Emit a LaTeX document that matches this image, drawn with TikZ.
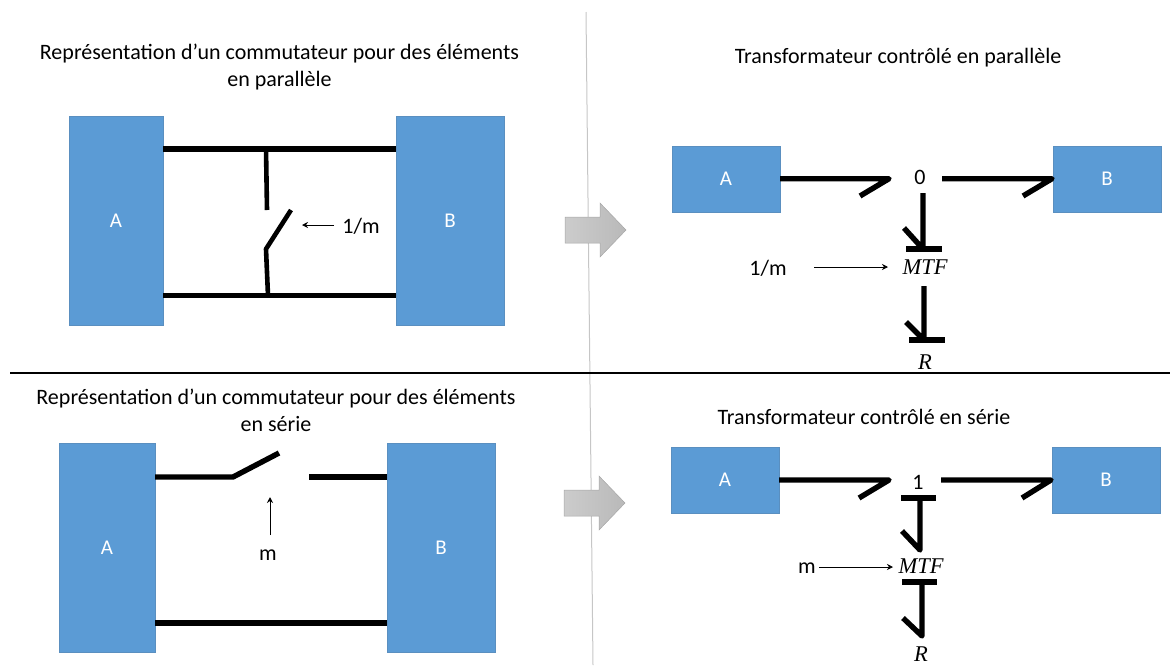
\documentclass[tikz,border=0pt]{standalone}
\usepackage{fontspec}
\setmainfont{Carlito}
\newfontfamily\mathish{Liberation Serif}
\usetikzlibrary{arrows.meta}
\definecolor{boxblue}{HTML}{5B9BD5}
\definecolor{boxedge}{HTML}{5A8FC0}
\tikzset{
  blockbox/.style={draw=boxedge,line width=0.8pt,fill=boxblue,text=white,inner sep=0pt,font=\fontsize{21}{24}\selectfont},
  wire/.style={line width=5.4pt,black,line join=bevel},
  bond/.style={line width=5.4pt,black,line join=round},
  thinarrow/.style={line width=1pt,-{Stealth[length=6pt,width=6pt]}},
  label/.style={inner sep=0pt,font=\fontsize{22}{27}\selectfont,align=center},
  mathlabel/.style={inner sep=0pt,font=\mathish\itshape\fontsize{22.5}{24}\selectfont},
  bigarrow/.style={draw=gray!70,line width=0.5pt,left color=gray!40,right color=gray!55},
}
\begin{document}
\begin{tikzpicture}[x=1pt,y=-1pt]
\useasboundingbox (0,0) rectangle (1170,665);
% separators
\coordinate (vt) at (586,12); \coordinate (vb) at (593,665);
\coordinate (hl) at (10,373); \coordinate (hr) at (1170,373);
\draw[line width=1pt,gray!45] (vt) -- (vb);
\draw[line width=2.6pt,black] (hl) -- (hr);
% big arrows
\draw[bigarrow] (565,217) -- (600,217) -- (600,203) -- (626,230) -- (600,257) -- (600,243) -- (565,243) -- cycle;
\draw[bigarrow] (564,490) -- (599,490) -- (599,476) -- (625,503) -- (599,530) -- (599,516) -- (564,516) -- cycle;
% titles
\node[label] (t1) at (279.5,67.5) {Représentation d’un commutateur pour des éléments\\en parallèle};
\node[label] (t2) at (898,58) {Transformateur contrôlé en parallèle};
\node[label] (t3) at (276,410.5) {Représentation d’un commutateur pour des éléments\\en série};
\node[label] (t4) at (864,417) {Transformateur contrôlé en série};
% top-left
\node[blockbox,minimum width=94pt,minimum height=209pt] (a1) at (116,220.5) {A};
\node[blockbox,minimum width=108pt,minimum height=209pt] (b1) at (450,220.5) {B};
\coordinate (a1t) at (163,149); \coordinate (b1t) at (396,149);
\coordinate (a1b) at (163,295.5); \coordinate (b1b) at (396,295.5);
\coordinate (s1a) at (266,149); \coordinate (s1b) at (267,210);
\coordinate (s1c) at (291,210); \coordinate (s1d) at (266,249); \coordinate (s1e) at (268,295.5);
\draw[wire] (a1t) -- (b1t);
\draw[wire] (a1b) -- (b1b);
\draw[wire,line width=4.6pt] (s1a) -- (s1b);
\draw[wire,line width=4.6pt] (s1c) -- (s1d) -- (s1e);
\node[label] (m1) at (361,226) {1/m};
\coordinate (m1s) at (334,225); \coordinate (m1e) at (302,225);
\draw[thinarrow] (m1s) -- (m1e);
% bottom-left
\node[blockbox,minimum width=96pt,minimum height=209pt] (a2) at (107,547.5) {A};
\node[blockbox,minimum width=108pt,minimum height=209pt] (b2) at (441,547.5) {B};
\coordinate (a2t) at (155,477); \coordinate (s2a) at (233,477); \coordinate (s2b) at (279,453);
\coordinate (s2c) at (309,477); \coordinate (b2t) at (387,477);
\coordinate (a2b) at (155,623); \coordinate (b2b) at (387,623);
\draw[wire] (a2t) -- (s2a) -- (s2b);
\draw[wire] (s2c) -- (b2t);
\draw[wire] (a2b) -- (b2b);
\node[label] (m2) at (268,555) {m};
\coordinate (m2s) at (270,535); \coordinate (m2e) at (270,497);
\draw[thinarrow] (m2s) -- (m2e);
% top-right bond graph
\node[blockbox,minimum width=108pt,minimum height=66pt] (a3) at (726,179) {A};
\node[blockbox,minimum width=108pt,minimum height=66pt] (b3) at (1107,179) {B};
\node[label] (j0) at (920,177) {0};
\node[mathlabel] (mtf1) at (925,267) {MTF};
\node[mathlabel] (r1) at (925,362) {R};
\node[label] (m3) at (768,268) {1/m};
\coordinate (p1) at (780,178.7); \coordinate (p2) at (889,178.7); \coordinate (p3) at (860,196);
\coordinate (p4) at (942,178.7); \coordinate (p5) at (1052,178.7); \coordinate (p6) at (1023,196);
\draw[bond] (p1) -- (p2) -- (p3);
\draw[bond] (p4) -- (p5) -- (p6);
\coordinate (q1) at (923,193); \coordinate (q2) at (923,249); \coordinate (q3) at (904,228);
\coordinate (q4) at (906,249); \coordinate (q5) at (942,249);
\draw[bond] (q1) -- (q2) -- (q3);
\draw[bond] (q4) -- (q5);
\coordinate (u1) at (924,286); \coordinate (u2) at (924,340); \coordinate (u3) at (906,322);
\coordinate (u4) at (909,340); \coordinate (u5) at (945,340);
\draw[bond] (u1) -- (u2) -- (u3);
\draw[bond] (u4) -- (u5);
\coordinate (c1s) at (814,267); \coordinate (c1e) at (888,267);
\draw[thinarrow,line width=0.8pt] (c1s) -- (c1e);
% bottom-right bond graph
\node[blockbox,minimum width=108pt,minimum height=66pt] (a4) at (725,480) {A};
\node[blockbox,minimum width=108pt,minimum height=66pt] (b4) at (1106,480) {B};
\node[label] (j1) at (918,482) {1};
\node[mathlabel] (mtf2) at (921,566) {MTF};
\node[mathlabel] (r2) at (921,654.5) {R};
\node[label] (m4) at (807,568) {m};
\coordinate (v1) at (779,480); \coordinate (v2) at (889,480); \coordinate (v3) at (859,498);
\coordinate (v4) at (941,480); \coordinate (v5) at (1051,480); \coordinate (v6) at (1022,498);
\draw[bond] (v1) -- (v2) -- (v3);
\draw[bond] (v4) -- (v5) -- (v6);
\coordinate (w1) at (901,498); \coordinate (w2) at (936,498);
\coordinate (w3) at (920,498); \coordinate (w4) at (920,550); \coordinate (w5) at (902,531);
\draw[bond] (w1) -- (w2);
\draw[bond] (w3) -- (w4) -- (w5);
\coordinate (z1) at (902,582); \coordinate (z2) at (937,582);
\coordinate (z3) at (922,582); \coordinate (z4) at (922,636); \coordinate (z5) at (903,618);
\draw[bond] (z1) -- (z2);
\draw[bond] (z3) -- (z4) -- (z5);
\coordinate (c2s) at (819,567); \coordinate (c2e) at (893,567);
\draw[thinarrow,line width=0.8pt] (c2s) -- (c2e);
\end{tikzpicture}
\end{document}
